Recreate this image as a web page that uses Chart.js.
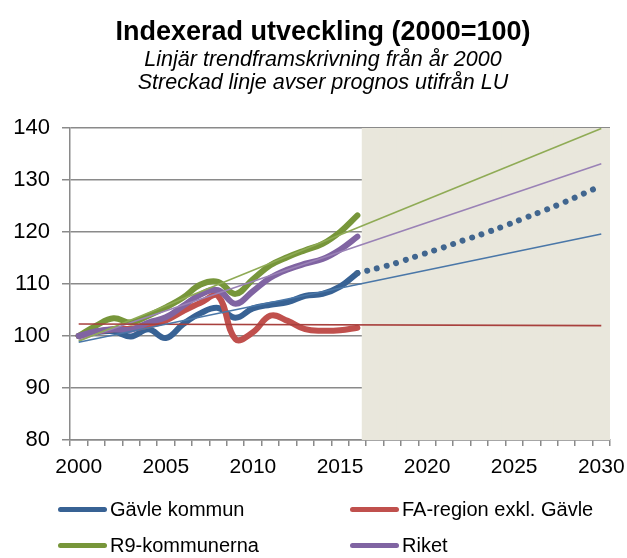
<!DOCTYPE html>
<html lang="sv">
<head>
<meta charset="utf-8">
<title>Indexerad utveckling</title>
<script src="https://cdn.jsdelivr.net/npm/chart.js@4/dist/chart.umd.min.js"></script>
<style>
    body { margin: 0; background: #fff; }
    #wrap { position: relative; width: 627px; height: 558px; font-family: "Liberation Sans", Arial, sans-serif; }
    .leg { position: absolute; display: flex; align-items: center; font-size: 20px; color: #000; white-space: nowrap; }
    .leg span { display: inline-block; width: 49px; height: 5px; border-radius: 3px; margin-right: 3px; }
</style>
</head>
<body>
<div id="wrap">
    <canvas id="grafik" width="627" height="558"></canvas>
    <div class="leg" style="left:58px;top:498px"><span style="background:#386294"></span>Gävle kommun</div>
    <div class="leg" style="left:350px;top:498px"><span style="background:#c0504d"></span>FA-region exkl. Gävle</div>
    <div class="leg" style="left:58px;top:534px"><span style="background:#77963a"></span>R9-kommunerna</div>
    <div class="leg" style="left:350px;top:534px"><span style="background:#8064a2"></span>Riket</div>
</div>
<script>
const ar = ['2000','2001','2002','2003','2004','2005','2006','2007','2008','2009','2010',
    '2011','2012','2013','2014','2015','2016','2017','2018','2019','2020',
    '2021','2022','2023','2024','2025','2026','2027','2028','2029','2030']

// utfall 2000-2016, index 2000=100
const gavle  = [100, 100.7, 100.9, 99.9, 101.3, 99.6, 102.3, 104.4, 105.4, 103.5, 105.3, 106.0, 106.5, 107.7, 108.1, 109.5, 112.1]
const faRegion = [100, 100.8, 101.3, 101.4, 102.0, 103.0, 104.8, 106.4, 107.7, 99.4, 100.7, 103.9, 102.9, 101.3, 101.0, 101.1, 101.6]
const r9     = [100, 102.0, 103.4, 102.6, 103.9, 105.5, 107.4, 109.9, 110.4, 108.1, 110.9, 113.6, 115.2, 116.5, 117.7, 120.0, 123.2]
const riket  = [100, 100.9, 101.3, 101.2, 102.6, 103.6, 105.8, 108.0, 108.8, 106.2, 108.6, 111.2, 112.8, 113.9, 114.8, 116.6, 119.1]

// prognos (LU) for Gävle 2016-2030
const gavlePrognos = [112.1, 112.9, 113.8, 114.9, 116.0, 117.1, 118.3, 119.4, 120.6, 121.9, 123.2, 124.5, 125.9, 127.4, 128.9]

// linjära trender, värde år 2000 och år 2030
const trendGavle = [98.8, 119.6]
const trendFa    = [102.3, 102.0]
const trendR9    = [99.0, 139.9]
const trendRiket = [99.2, 133.1]

const prognosStart = 2017
const yTicks = [80, 90, 100, 110, 120, 130, 140]

function trend(par) {
    const d = ar.map(() => null)
    d[0] = par[0]
    d[ar.length - 1] = par[1]
    return d
}

function framat(start, varden) {
    const d = ar.map(() => null)
    const i0 = ar.indexOf(String(start))
    varden.forEach((v, i) => { d[i0 + i] = v })
    return d
}

const skugga = ar.map(a => Number(a) >= prognosStart ? yTicks[yTicks.length - 1] : null)

function serie(label, data, color, order) {
    return {
        type: 'line', label, data, borderColor: color, backgroundColor: color,
        borderWidth: 6, tension: 0.4, pointRadius: 0,
        borderCapStyle: 'round', borderJoinStyle: 'round', order
    }
}

function trendlinje(data, color) {
    return {
        type: 'line', data, borderColor: color, borderWidth: 1.6,
        pointRadius: 0, spanGaps: true, order: 0
    }
}

// flytta rubrikerna lite åt höger (centrerade över hela diagrammet i originalet)
const rubrikFlytt = {
    id: 'rubrikFlytt',
    afterLayout(chart) {
        chart.boxes.forEach(b => {
            if (b.position === 'top' && b.options && b.options.text !== undefined) {
                b.left += 36
            }
        })
    }
}

const ctx = document.getElementById('grafik').getContext('2d')
const gra = '#8a8a8a'
const typsnitt = '"Liberation Sans", Arial, sans-serif'

new Chart(ctx, {
    data: {
        labels: ar,
        datasets: [
            {
                type: 'bar', label: 'prognosperiod', data: skugga,
                backgroundColor: '#e9e7dc', barPercentage: 1.5, categoryPercentage: 1,
                order: 10
            },
            serie('Gävle kommun', gavle, '#386294', 4),
            serie('FA-region exkl. Gävle', faRegion, '#c0504d', 3),
            serie('R9-kommunerna', r9, '#77963a', 2),
            serie('Riket', riket, '#8064a2', 1),
            {
                type: 'line', label: 'Prognos', data: framat(2016, gavlePrognos),
                borderColor: '#41668f', borderWidth: 6, borderDash: [0.01, 10],
                borderCapStyle: 'round', pointRadius: 0, tension: 0.3, order: 1
            },
            trendlinje(trend(trendGavle), '#4a77a8'),
            trendlinje(trend(trendFa), '#a8403d'),
            trendlinje(trend(trendR9), '#8fab55'),
            trendlinje(trend(trendRiket), '#9a82b6')
        ]
    },
    plugins: [rubrikFlytt],
    options: {
        responsive: false,
        animation: false,
        layout: { padding: { left: 0, right: 17, top: 0, bottom: 78 } },
        plugins: {
            legend: { display: false },
            tooltip: { enabled: false },
            title: {
                display: true,
                text: 'Indexerad utveckling (2000=100)',
                color: '#000',
                font: { family: typsnitt, size: 27, weight: 'bold', lineHeight: 1.2 },
                padding: { top: 16, bottom: 0 }
            },
            subtitle: {
                display: true,
                text: ['Linjär trendframskrivning från år 2000', 'Streckad linje avser prognos utifrån LU'],
                color: '#000',
                font: { family: typsnitt, size: 21.5, style: 'italic', lineHeight: 1.06 },
                padding: { top: 0, bottom: 34 }
            }
        },
        scales: {
            x: {
                offset: true,
                grid: { drawOnChartArea: false, drawTicks: true, tickLength: 6, color: gra, lineWidth: 1.5, offset: true },
                border: { color: gra, width: 1.5 },
                ticks: {
                    autoSkip: false, maxRotation: 0, color: '#000', padding: 9,
                    font: { family: typsnitt, size: 21 },
                    callback: (v, i) => i % 5 === 0 ? ar[i] : ''
                },
                afterFit: s => { s.height = 40; s.paddingLeft = 0; s.paddingRight = 0 }
            },
            y: {
                min: 80, max: 140,
                grid: { color: gra, lineWidth: 1.5, tickLength: 8 },
                border: { color: gra, width: 1.5 },
                ticks: {
                    stepSize: 10, color: '#000', padding: 12,
                    font: { family: typsnitt, size: 22 }
                },
                afterFit: s => { s.width = 70 }
            }
        }
    }
})
</script>
</body>
</html>
